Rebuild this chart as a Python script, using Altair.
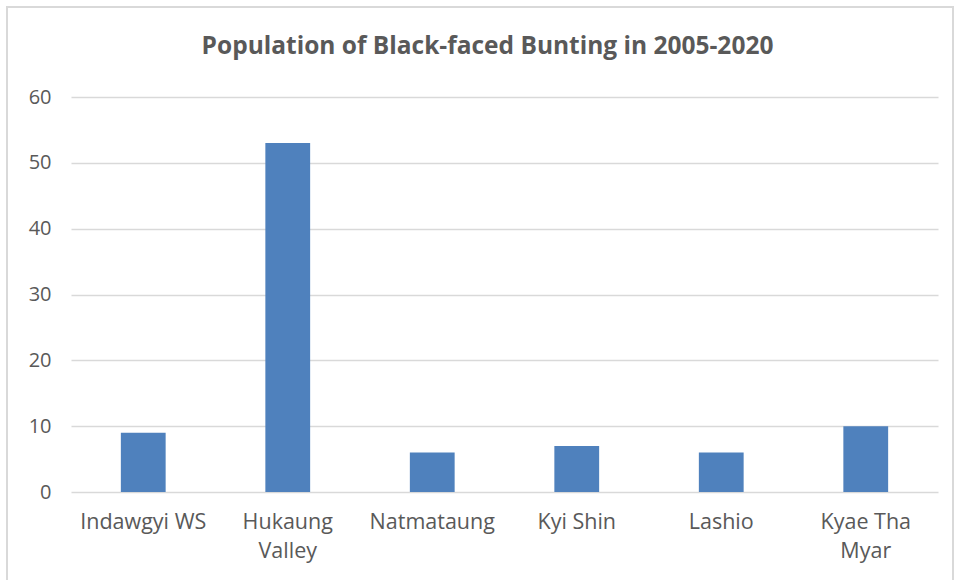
import altair as alt
import pandas as pd

sites = ["Indawgyi WS", "Hukaung Valley", "Natmataung", "Kyi Shin", "Lashio", "Kyae Tha Myar"]
label_lines = ["Indawgyi WS", "Hukaung|Valley", "Natmataung", "Kyi Shin", "Lashio", "Kyae Tha|Myar"]
counts = [9, 53, 6, 7, 6, 10]
y_ticks = [0, 10, 20, 30, 40, 50, 60]
title_text = "Population of Black-faced Bunting in 2005-2020"

df = pd.DataFrame({"site": sites, "count": counts, "lab": label_lines})

mapping = "{" + ",".join(f"'{s}':'{l}'" for s, l in zip(sites, label_lines)) + "}"
label_expr = f"split({mapping}[datum.value], '|')"

W, H = 867, 395
FONT = "Open Sans"
GREY = "#595959"

bars = alt.Chart(df).mark_bar(color="#4f81bd").encode(
    x=alt.X("site:N", sort=sites, title=None,
            scale=alt.Scale(paddingInner=0.69, paddingOuter=0.345),
            axis=alt.Axis(labelExpr=label_expr, labelAngle=0, labelFont=FONT,
                          labelFontSize=21.5, labelColor=GREY, labelPadding=19,
                          labelLineHeight=29, domain=False, ticks=False, grid=False)),
    y=alt.Y("count:Q", title=None,
            scale=alt.Scale(domain=[0, 60], nice=False),
            axis=alt.Axis(values=y_ticks, labelFont=FONT, labelFontSize=20,
                          labelColor=GREY, labelPadding=20, domain=False,
                          ticks=False, grid=True, gridColor="#d9d9d9", gridWidth=1.3)),
)

frame = alt.Chart(df).mark_rect(fill=None, stroke="#d9d9d9", strokeWidth=1.5).encode(
    x=alt.value(-64), x2=alt.value(W + 15), y=alt.value(-90), y2=alt.value(H + 100)
)

title = alt.Chart(pd.DataFrame({"t": [title_text]})).mark_text(
    font=FONT, fontSize=24.5, fontWeight="bold", color=GREY, align="center", baseline="middle"
).encode(text="t:N", x=alt.value(W / 2 - 17), y=alt.value(-50))

chart = alt.layer(frame, bars, title).properties(
    width=W, height=H,
    autosize=alt.AutoSizeParams(type="none"),
    padding={"left": 71, "top": 97, "right": 17, "bottom": 88},
    background="white",
).configure_view(stroke=None)

chart.save("out.html", embed_options={"renderer": "svg", "actions": False})
